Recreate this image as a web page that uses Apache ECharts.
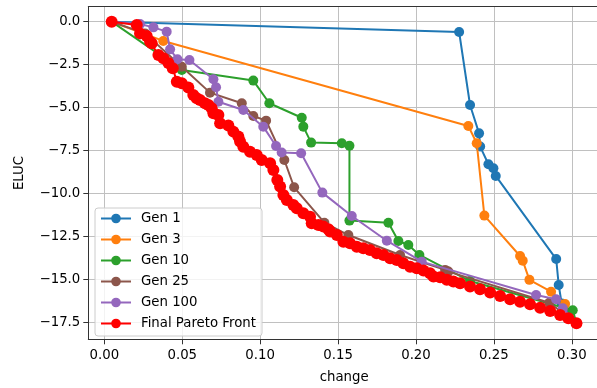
<!DOCTYPE html>
<html><head><meta charset="utf-8">
<script src="https://cdn.jsdelivr.net/npm/echarts@6/dist/echarts.min.js"></script>
<style>html,body{margin:0;padding:0;background:#fff;overflow:hidden}#c{width:597px;height:388px}</style>
</head><body><div id="c"></div>
<script>
const seriesNames = ['Gen 1', 'Gen 3', 'Gen 10', 'Gen 25', 'Gen 100', 'Final Pareto Front'];
const seriesColors = ['#1f77b4', '#ff7f0e', '#2ca02c', '#8c564b', '#9467bd', '#ff0000'];

const gen1 = [[0.0047,0],[0.2277,-0.60],[0.2347,-4.85],[0.2405,-6.50],[0.2412,-7.27],[0.2465,-8.30],[0.2497,-8.53],[0.2512,-8.98],[0.2900,-13.82],[0.2916,-15.33],[0.2935,-16.40],[0.3030,-17.55]];
const gen3 = [[0.0047,0],[0.0378,-1.12],[0.2336,-6.07],[0.2390,-7.08],[0.2439,-11.29],[0.2668,-13.64],[0.2685,-13.91],[0.2728,-15.03],[0.2867,-15.72],[0.2957,-16.43],[0.3030,-17.55]];
const gen10 = [[0.0047,0],[0.0497,-2.81],[0.0956,-3.43],[0.1059,-4.75],[0.1267,-5.59],[0.1277,-6.11],[0.1327,-7.04],[0.1524,-7.08],[0.1573,-7.22],[0.1573,-11.58],[0.1823,-11.70],[0.1887,-12.77],[0.1951,-13.00],[0.2022,-13.58],[0.2347,-15.10],[0.3006,-16.80],[0.3030,-17.55]];
const gen25 = [[0.0047,0],[0.0261,-0.68],[0.0497,-2.62],[0.0678,-4.13],[0.0882,-4.75],[0.0956,-5.49],[0.1038,-5.76],[0.1155,-8.05],[0.1218,-9.64],[0.1412,-11.70],[0.1566,-12.42],[0.1898,-13.58],[0.2187,-14.45],[0.2208,-14.55],[0.2856,-16.36],[0.3030,-17.55]];
const gen100 = [[0.0047,0],[0.0229,-0.13],[0.0315,-0.33],[0.0400,-0.58],[0.0422,-1.61],[0.0469,-2.19],[0.0546,-2.23],[0.0700,-3.35],[0.0717,-3.82],[0.0732,-4.66],[0.0892,-5.14],[0.1020,-6.11],[0.1102,-7.24],[0.1138,-7.62],[0.1263,-7.66],[0.1399,-9.95],[0.1588,-11.31],[0.1813,-12.75],[0.2037,-13.97],[0.2771,-15.91],[0.2899,-16.16],[0.2942,-16.68],[0.3030,-17.55]];
const finalFront = [[0.0047,0],[0.0208,-0.19],[0.0229,-0.68],[0.0272,-0.83],[0.0293,-1.16],[0.0304,-1.26],[0.0347,-1.94],[0.0379,-2.13],[0.0411,-2.40],[0.0439,-2.71],[0.0465,-3.49],[0.0497,-3.59],[0.0539,-3.83],[0.0571,-4.27],[0.0593,-4.46],[0.0614,-4.56],[0.0646,-4.75],[0.0668,-4.85],[0.0689,-5.04],[0.0700,-5.33],[0.0732,-5.43],[0.0743,-5.91],[0.0796,-6.04],[0.0828,-6.40],[0.0860,-6.69],[0.0871,-6.98],[0.0892,-7.28],[0.0935,-7.57],[0.0978,-7.76],[0.1010,-8.05],[0.1064,-8.24],[0.1085,-8.63],[0.1110,-9.21],[0.1128,-9.60],[0.1149,-10.09],[0.1171,-10.38],[0.1213,-10.67],[0.1235,-10.86],[0.1277,-11.15],[0.1320,-11.35],[0.1331,-11.73],[0.1374,-11.83],[0.1406,-11.93],[0.1438,-12.08],[0.1449,-12.22],[0.1492,-12.42],[0.1534,-12.81],[0.1577,-12.90],[0.1620,-13.10],[0.1662,-13.19],[0.1705,-13.29],[0.1748,-13.48],[0.1791,-13.58],[0.1834,-13.77],[0.1877,-13.87],[0.1919,-14.06],[0.1962,-14.26],[0.2005,-14.35],[0.2048,-14.49],[0.2090,-14.65],[0.2112,-14.84],[0.2155,-14.88],[0.2198,-15.03],[0.2240,-15.13],[0.2283,-15.23],[0.2347,-15.42],[0.2411,-15.58],[0.2476,-15.77],[0.2540,-15.97],[0.2604,-16.16],[0.2668,-16.30],[0.2732,-16.45],[0.2797,-16.65],[0.2861,-16.84],[0.2925,-17.07],[0.2978,-17.26],[0.3030,-17.55]];

const xTicks = [0, 0.05, 0.10, 0.15, 0.20, 0.25, 0.30];
const yTicks = [-17.5, -15, -12.5, -10, -7.5, -5, -2.5, 0];

const allData = [gen1, gen3, gen10, gen25, gen100, finalFront];
const FONT = 'DejaVu Sans';
const FS = 13.3;

const chart = echarts.init(document.getElementById('c'), null, {renderer: 'canvas'});
chart.setOption({
  animation: false,
  backgroundColor: '#fff',
  grid: {left: 88.3, top: 6.7, right: -10, bottom: 48.7, containLabel: false, outerBoundsMode: 'none', show: false},
  legend: {
    orient: 'vertical', left: 95, top: 208,
    data: seriesNames,
    itemWidth: 30, itemHeight: 12, itemGap: 8,
    padding: [4, 6, 6, 5],
    backgroundColor: 'rgba(255,255,255,0.8)', borderColor: '#cccccc', borderWidth: 1, borderRadius: 3,
    textStyle: {fontFamily: FONT, fontSize: FS, color: '#000', padding: [0, 0, 0, 5]}
  },
  xAxis: [{
    type: 'value', min: -0.0103, max: 0.3226,
    name: 'change', nameLocation: 'middle', nameGap: 32,
    nameTextStyle: {fontFamily: FONT, fontSize: FS, color: '#000', padding: [0, 7, 0, 0]},
    axisLine: {show: true, onZero: false, lineStyle: {color: '#333', width: 1}},
    axisTick: {show: true, length: 5, customValues: xTicks, lineStyle: {color: '#333', width: 1}},
    axisLabel: {customValues: xTicks, formatter: v => v.toFixed(2), fontFamily: FONT, fontSize: FS, color: '#000', margin: 10},
    splitLine: {show: true, lineStyle: {color: '#c0c0c0', width: 1}}
  }, {
    type: 'value', position: 'top', min: -0.0103, max: 0.3226,
    axisLine: {show: true, onZero: false, lineStyle: {color: '#333', width: 1}},
    axisTick: {show: false}, axisLabel: {show: false}, splitLine: {show: false}
  }],
  yAxis: {
    type: 'value', min: -18.49, max: 0.873,
    name: 'ELUC', nameLocation: 'middle', nameGap: 62, nameRotate: 90,
    nameTextStyle: {fontFamily: FONT, fontSize: FS, color: '#000'},
    axisLine: {show: true, onZero: false, lineStyle: {color: '#333', width: 1}},
    axisTick: {show: true, length: 5, customValues: yTicks, lineStyle: {color: '#333', width: 1}},
    axisLabel: {customValues: yTicks, formatter: v => (v < 0 ? '\u2212' : '') + Math.abs(v).toFixed(1), fontFamily: FONT, fontSize: FS, color: '#000', margin: 8},
    splitLine: {show: true, lineStyle: {color: '#c0c0c0', width: 1}}
  },
  series: seriesNames.map((name, i) => ({
    name: name, type: 'line', data: allData[i], xAxisIndex: 0,
    symbol: 'circle', symbolSize: i === 5 ? 12 : 10,
    showAllSymbol: true,
    lineStyle: {color: seriesColors[i], width: 2},
    itemStyle: {color: seriesColors[i], borderWidth: 0},
    emphasis: {disabled: true},
    z: 2 + i
  }))
});
</script></body></html>
